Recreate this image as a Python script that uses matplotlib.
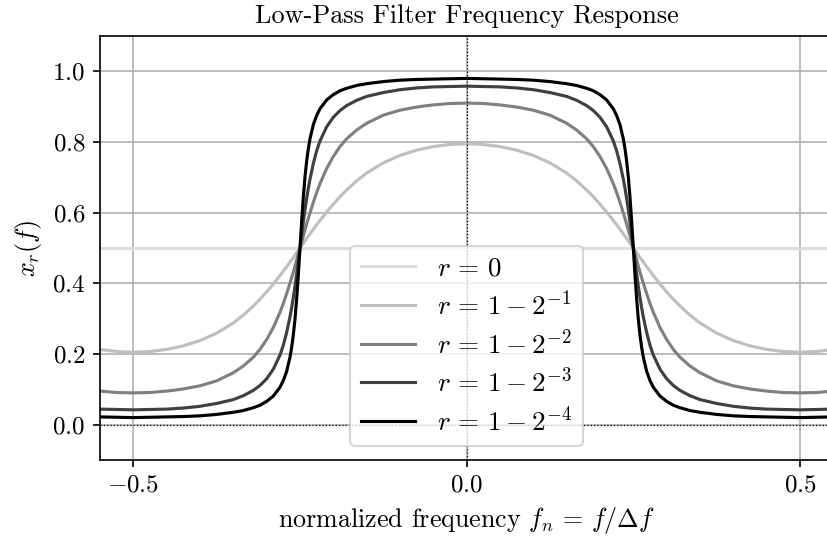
import matplotlib
matplotlib.use("Agg")
import matplotlib.pyplot as plt

# response for f >= 0 (curves are even in f)
freq = [0.0, 0.025, 0.05, 0.075, 0.1, 0.125, 0.15, 0.165, 0.18, 0.19, 0.2, 0.21, 0.22, 0.225,
        0.23, 0.235, 0.2375, 0.24, 0.2425, 0.245, 0.2475, 0.25,
        0.2525, 0.255, 0.2575, 0.26, 0.2625, 0.265, 0.27, 0.275, 0.28, 0.29, 0.3, 0.31, 0.32,
        0.335, 0.35, 0.375, 0.4, 0.425, 0.45, 0.475, 0.5, 0.525, 0.55]

resp_r0 = [0.5] * len(freq)
resp_r1 = [0.795, 0.793, 0.787, 0.777, 0.762, 0.741, 0.712, 0.690, 0.664, 0.645, 0.624, 0.602,
           0.578, 0.566, 0.553, 0.540, 0.533, 0.527, 0.520, 0.513, 0.507, 0.500,
           0.493, 0.487, 0.480, 0.473, 0.467, 0.460, 0.447, 0.435, 0.422, 0.398, 0.376, 0.355,
           0.336, 0.310, 0.288, 0.259, 0.238, 0.223, 0.213, 0.207, 0.205, 0.207, 0.213]
resp_r2 = [0.910, 0.909, 0.905, 0.899, 0.890, 0.876, 0.853, 0.834, 0.809, 0.787, 0.759, 0.725,
           0.682, 0.657, 0.629, 0.599, 0.584, 0.568, 0.551, 0.534, 0.517, 0.500,
           0.483, 0.466, 0.449, 0.432, 0.416, 0.401, 0.371, 0.343, 0.318, 0.275, 0.241, 0.213,
           0.191, 0.166, 0.147, 0.124, 0.110, 0.101, 0.095, 0.091, 0.090, 0.091, 0.095]
resp_r3 = [0.958, 0.957, 0.956, 0.953, 0.948, 0.940, 0.929, 0.918, 0.903, 0.889, 0.870, 0.843,
           0.803, 0.775, 0.739, 0.695, 0.669, 0.640, 0.608, 0.573, 0.537, 0.500,
           0.463, 0.427, 0.392, 0.360, 0.331, 0.305, 0.261, 0.225, 0.197, 0.157, 0.130, 0.111,
           0.097, 0.082, 0.071, 0.060, 0.052, 0.047, 0.044, 0.043, 0.042, 0.043, 0.044]
resp_r4 = [0.980, 0.979, 0.978, 0.977, 0.975, 0.971, 0.965, 0.960, 0.952, 0.945, 0.934, 0.919,
           0.894, 0.875, 0.849, 0.809, 0.781, 0.746, 0.701, 0.644, 0.576, 0.500,
           0.424, 0.356, 0.299, 0.254, 0.219, 0.191, 0.151, 0.125, 0.106, 0.081, 0.066, 0.055,
           0.048, 0.040, 0.035, 0.029, 0.025, 0.023, 0.022, 0.021, 0.020, 0.021, 0.022]

labels = [r"$r\,=\,0$", r"$r\,=\,1-2^{-1}$", r"$r\,=\,1-2^{-2}$",
          r"$r\,=\,1-2^{-3}$", r"$r\,=\,1-2^{-4}$"]
series = [resp_r0, resp_r1, resp_r2, resp_r3, resp_r4]
greys = ["#dddddd", "#bfbfbf", "#808080", "#404040", "#000000"]

plt.rcParams["font.family"] = ["cmr10", "DejaVu Serif"]
plt.rcParams["mathtext.fontset"] = "cm"
plt.rcParams["axes.formatter.use_mathtext"] = True


def mirror(vals):
    return list(vals[:0:-1]) + list(vals)


f_full = [-v for v in freq[:0:-1]] + freq

fig = plt.figure(figsize=(827 / 150, 546 / 150), dpi=150)
ax = fig.add_axes([100 / 827, 86 / 546, 733.3 / 827, 424 / 546])

for ys, lab, c in zip(series, labels, greys):
    ax.plot(f_full, mirror(ys), color=c, lw=1.5, label=lab)

ax.axhline(0, color="k", ls=":", lw=0.6)
ax.axvline(0, color="k", ls=":", lw=0.6)
ax.grid(True, color="#b0b0b0", lw=0.8)
ax.set_axisbelow(True)

ax.set_xlim(-0.55, 0.55)
ax.set_ylim(-0.1, 1.1)
ax.set_xticks([-0.5, 0.0, 0.5])
ax.set_yticks([0.0, 0.2, 0.4, 0.6, 0.8, 1.0])
ax.tick_params(labelsize=12)

ax.set_title("Low-Pass Filter Frequency Response", fontsize=12.6)
ax.set_xlabel(r"normalized frequency $f_n\,=\,f/\Delta f$", fontsize=12.5)
ax.set_ylabel(r"$x_r(f)$", fontsize=12.5)
ax.legend(loc="lower center", fontsize=13, labelspacing=0.33)

fig.savefig("out.png", dpi=150)
